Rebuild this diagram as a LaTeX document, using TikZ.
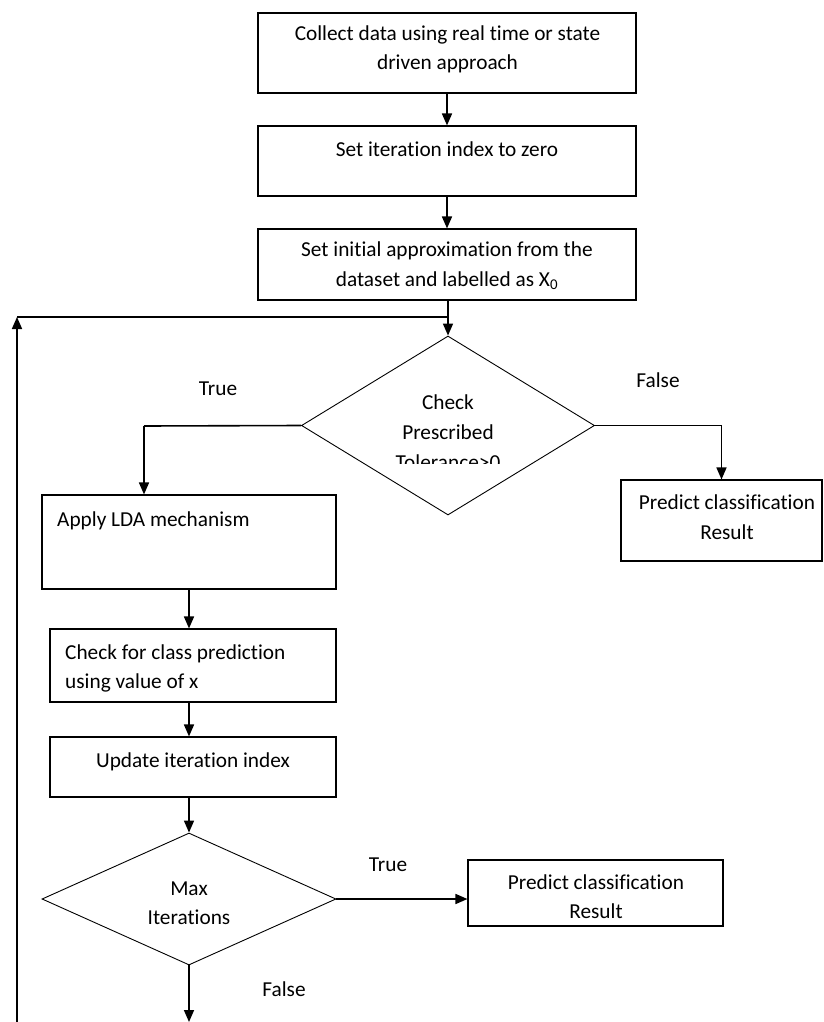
\documentclass[tikz,border=0pt]{standalone}
\usepackage{fontspec}
\setmainfont{Carlito}[Ligatures={NoCommon}]
\usetikzlibrary{arrows.meta,shapes.geometric}
\begin{document}
\begin{tikzpicture}[x=1pt,y=-1pt,
  box/.style={draw,line width=1.1pt,inner sep=0pt},
  dia/.style={draw,diamond,line width=0.9pt,inner sep=0pt},
  txt/.style={inner sep=0pt,anchor=base,font=\fontsize{21.3}{25}\selectfont},
  arr/.style={line width=1.6pt,-{Triangle[length=12pt,width=10pt]}},
  ln/.style={line width=1.6pt}]
\useasboundingbox (0,0) rectangle (823,1022);
% boxes
\node[box,minimum width=378pt,minimum height=80pt] (b1) at (447,53) {};
\node[box,minimum width=378pt,minimum height=70pt] (b2) at (447,161) {};
\node[box,minimum width=378pt,minimum height=71pt] (b3) at (447,264.5) {};
\node[box,minimum width=294pt,minimum height=94pt] (b4) at (189,542) {};
\node[box,minimum width=201pt,minimum height=81pt] (b5) at (721.5,520.5) {};
\node[box,minimum width=286pt,minimum height=73pt] (b6) at (193,665.5) {};
\node[box,minimum width=286pt,minimum height=60pt] (b7) at (193,767) {};
\node[box,minimum width=255pt,minimum height=66pt] (b8) at (595.5,893) {};
% diamonds
\node[dia,minimum width=293pt,minimum height=179pt] (d1) at (448,425.5) {};
\node[dia,minimum width=294pt,minimum height=132pt] (d2) at (189,899) {};
% texts
\node[txt] (t1a) at (447.5,41) {Collect data using real time or state};
\node[txt] (t1b) at (447.5,70) {driven approach};
\node[txt] (t2) at (447,156) {Set iteration index to zero};
\node[txt] (t3a) at (447,256) {Set initial approximation from the};
\node[txt] (t3b) at (447,286) {dataset and labelled as X\textsubscript{0}};
\node[txt] (t4a) at (448,409) {Check};
\node[txt] (t4b) at (448,439) {Prescribed};
\begin{scope}
\clip (300,440) rectangle (600,463.5);
\node[txt] (t4c) at (448,469) {Tolerance>0};
\end{scope}
\node[txt] (lt1) at (218,395) {True};
\node[txt] (lf1) at (658,387) {False};
\node[txt,anchor=base west] (t5) at (57,526) {Apply LDA mechanism};
\node[txt] (t6a) at (727,509) {Predict classification};
\node[txt] (t6b) at (727,539) {Result};
\node[txt,anchor=base west] (t7a) at (65,659) {Check for class prediction};
\node[txt,anchor=base west] (t7b) at (65,688) {using value of x};
\node[txt] (t8) at (193,767) {Update iteration index};
\node[txt] (t9a) at (189,895) {Max};
\node[txt] (t9b) at (189,924) {Iterations};
\node[txt] (lt2) at (388,871) {True};
\node[txt] (t10a) at (596,889) {Predict classification};
\node[txt] (t10b) at (596,918) {Result};
\node[txt] (lf2) at (284,996) {False};
% coordinates
\coordinate (j) at (448,317);
\coordinate (fl) at (17,317);
\coordinate (fb) at (17,1022);
\coordinate (tl) at (144,426);
\coordinate (end) at (189,1022);
% connectors
\draw[arr] (b1.south) -- (b2.north);
\draw[arr] (b2.south) -- (b3.north);
\draw[arr] (d1.north |- b3.south) -- (d1.north);
\draw[ln] (fl) -- (j);
\draw[arr] (fb) -- (fl);
\draw[ln] (d1.west) -- (tl);
\draw[arr] (tl) -- (tl |- b4.north);
\draw[arr] (d1.east) -| (b5.north);
\draw[arr] (b4.south) -- (b4.south |- b6.north);
\draw[arr] (b4.south |- b6.south) -- (b4.south |- b7.north);
\draw[arr] (d2.north |- b7.south) -- (d2.north);
\draw[arr] (d2.east) -- (d2.east -| b8.west);
\draw[arr] (d2.south) -- (end);
\end{tikzpicture}
\end{document}
